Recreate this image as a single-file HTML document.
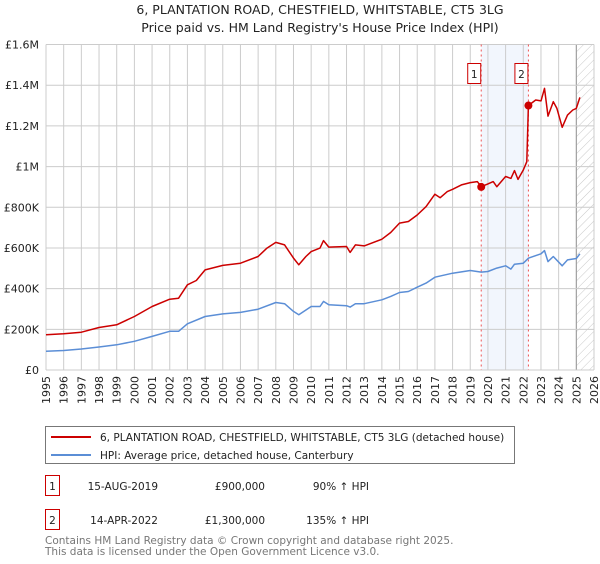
<!DOCTYPE html>
<html><head><meta charset="utf-8"><style>
body{margin:0;background:#fff;font-family:"DejaVu Sans","Liberation Sans",sans-serif;}
</style></head><body>
<svg id="chart" width="600" height="560" xmlns="http://www.w3.org/2000/svg" font-family="DejaVu Sans, Liberation Sans, sans-serif">
<text x="320" y="14" font-size="12.5" text-anchor="middle" fill="#222">6, PLANTATION ROAD, CHESTFIELD, WHITSTABLE, CT5 3LG</text>
<text x="320" y="32" font-size="12.5" text-anchor="middle" fill="#222">Price paid vs. HM Land Registry's House Price Index (HPI)</text>
<g id="grid"></g><g id="series"></g><g id="axes"></g>
<rect x="45.5" y="426.5" width="469" height="37" fill="#fff" stroke="#777"/>
<line x1="51" y1="437" x2="91" y2="437" stroke="#cc0000" stroke-width="2"/>
<text x="100" y="441" font-size="10.5" fill="#222">6, PLANTATION ROAD, CHESTFIELD, WHITSTABLE, CT5 3LG (detached house)</text>
<line x1="51" y1="455" x2="91" y2="455" stroke="#5b8ed6" stroke-width="2"/>
<text x="100" y="459" font-size="10.5" fill="#222">HPI: Average price, detached house, Canterbury</text>
<g font-size="10.5" fill="#222">
<rect x="45.5" y="475.5" width="14" height="20" fill="#fff" stroke="#cc0000"/>
<text x="52.5" y="490" text-anchor="middle">1</text>
<text x="158" y="490" text-anchor="end">15-AUG-2019</text>
<text x="265" y="490" text-anchor="end">£900,000</text>
<text x="369" y="490" text-anchor="end">90% ↑ HPI</text>
</g>
<g font-size="10.5" fill="#222">
<rect x="45.5" y="509.5" width="14" height="20" fill="#fff" stroke="#cc0000"/>
<text x="52.5" y="524" text-anchor="middle">2</text>
<text x="158" y="524" text-anchor="end">14-APR-2022</text>
<text x="265" y="524" text-anchor="end">£1,300,000</text>
<text x="369" y="524" text-anchor="end">135% ↑ HPI</text>
</g>
<text x="45" y="544" font-size="10.5" fill="#777">Contains HM Land Registry data © Crown copyright and database right 2025.</text>
<text x="45" y="555" font-size="10.5" fill="#777">This data is licensed under the Open Government Licence v3.0.</text>
</svg>
<script>
const yearTicks=[1995,1996,1997,1998,1999,2000,2001,2002,2003,2004,2005,2006,2007,2008,2009,2010,2011,2012,2013,2014,2015,2016,2017,2018,2019,2020,2021,2022,2023,2024,2025,2026];
const valueTicks=[0,200000,400000,600000,800000,1000000,1200000,1400000,1600000];
const valueTickLabels=["£0","£200K","£400K","£600K","£800K","£1M","£1.2M","£1.4M","£1.6M"];
const propTimes=[1995,1996,1997,1998,1999,2000,2001,2002,2002.5,2003,2003.5,2004,2005,2006,2007,2007.5,2008,2008.5,2009,2009.3,2009.7,2010,2010.5,2010.7,2011,2012,2012.2,2012.5,2013,2014,2014.5,2015,2015.5,2016,2016.5,2017,2017.3,2017.7,2018,2018.5,2019,2019.4,2019.62,2020,2020.3,2020.5,2021,2021.3,2021.5,2021.7,2022,2022.2,2022.29,2022.7,2023,2023.2,2023.4,2023.7,2023.9,2024.2,2024.5,2024.8,2025,2025.2];
const propValues=[173000,178000,186000,209000,222000,263000,312000,348000,353000,419000,440000,492000,514000,525000,558000,599000,627000,615000,550000,517000,558000,582000,599000,636000,604000,607000,578000,615000,610000,643000,676000,722000,730000,762000,803000,864000,847000,877000,888000,910000,921000,926000,901000,915000,926000,901000,951000,942000,980000,937000,983000,1024000,1300000,1327000,1323000,1384000,1248000,1319000,1286000,1193000,1253000,1278000,1286000,1340000];
const hpiTimes=[1995,1996,1997,1998,1999,2000,2001,2002,2002.5,2003,2004,2005,2006,2007,2008,2008.5,2009,2009.3,2010,2010.5,2010.7,2011,2012,2012.2,2012.5,2013,2014,2014.5,2015,2015.5,2016,2016.5,2017,2018,2019,2019.62,2020,2020.5,2021,2021.3,2021.5,2022,2022.3,2023,2023.2,2023.4,2023.7,2024.2,2024.5,2025,2025.2];
const hpiValues=[92000,96000,103000,113000,124000,141000,165000,190000,190000,227000,263000,276000,283000,299000,332000,326000,288000,272000,312000,312000,337000,321000,316000,309000,326000,326000,345000,362000,381000,386000,407000,427000,456000,476000,489000,481000,484000,501000,512000,496000,520000,525000,550000,571000,587000,533000,558000,512000,541000,548000,571000];
const saleTimes=[2019.62,2022.29];
const saleValues=[900000,1300000];
const saleLabels=["1","2"];

const X0=46,X1=594,Y0=370,Y1=44.5,T0=1995,T1=2026,VMAX=1600000;
const xs=t=>X0+(t-T0)/(T1-T0)*(X1-X0);
const ys=v=>Y0-v/VMAX*(Y0-Y1);
const NS="http://www.w3.org/2000/svg";
function mk(tag,attrs,parent){const e=document.createElementNS(NS,tag);for(const k in attrs)e.setAttribute(k,attrs[k]);parent.appendChild(e);return e;}
const grid=document.getElementById('grid'),series=document.getElementById('series'),axes=document.getElementById('axes');

const shade=mk('rect',{x:xs(saleTimes[0]),y:Y1,width:xs(saleTimes[1])-xs(saleTimes[0]),height:Y0-Y1,fill:'#f2f6fd'},grid);


const defs=mk('defs',{},grid);
const pat=mk('pattern',{id:'hatch',width:6,height:6,patternUnits:'userSpaceOnUse',patternTransform:'rotate(45)'},defs);
mk('line',{x1:0,y1:0,x2:0,y2:6,stroke:'#bbb','stroke-width':0.8},pat);
const hatch=mk('rect',{x:xs(2025.0),y:Y1,width:X1-xs(2025.0),height:Y0-Y1,fill:'url(#hatch)'},grid);



yearTicks.forEach(t=>{
  const l=mk('line',{x1:xs(t),y1:Y1,x2:xs(t),y2:Y0,stroke:'#ccc','stroke-width':1},grid);
  
  
  const tx=mk('text',{x:0,y:0,'font-size':11,fill:'#222','text-anchor':'end',transform:`translate(${xs(t)+4},${Y0+6}) rotate(-90)`},axes);
  tx.textContent=t;
  
  
});
const hb=mk('line',{x1:xs(2025.0),y1:Y1,x2:xs(2025.0),y2:Y0,stroke:'#999','stroke-width':1},grid);


valueTicks.forEach((v,i)=>{
  const l=mk('line',{x1:X0,y1:ys(v),x2:X1,y2:ys(v),stroke:'#ccc','stroke-width':1},grid);
  
  
  const tx=mk('text',{x:39,y:ys(v)+4,'font-size':11,fill:'#222','text-anchor':'end'},axes);
  tx.textContent=valueTickLabels[i];
  
  
});
saleTimes.forEach((t,i)=>{
  const l=mk('line',{x1:xs(t),y1:Y1,x2:xs(t),y2:Y0,stroke:'#ee5555','stroke-width':1,'stroke-dasharray':'2,3'},grid);
  
  
});
function path(ts,vs,color,name){
  const d=ts.map((t,i)=>(i?'L':'M')+xs(t).toFixed(1)+','+ys(vs[i]).toFixed(1)).join('');
  const p=mk('path',{d:d,fill:'none',stroke:color,'stroke-width':1.5,'stroke-linejoin':'round'},series);
  
  
}
path(hpiTimes,hpiValues,'#5b8ed6','hpi-line');
path(propTimes,propValues,'#cc0000','property-line');
saleTimes.forEach((t,i)=>{
  const c=mk('circle',{cx:xs(t),cy:ys(saleValues[i]),r:4,fill:'#cc0000'},series);
  
  
  const g=mk('g',{},series);
  
  
  mk('rect',{x:xs(t)-13.5,y:63.5,width:13,height:20,fill:'#fff',stroke:'#cc0000'},g);
  const tx=mk('text',{x:xs(t)-7,y:78,'font-size':10.5,fill:'#222','text-anchor':'middle'},g);
  tx.textContent=saleLabels[i];
});
</script>
</body></html>
